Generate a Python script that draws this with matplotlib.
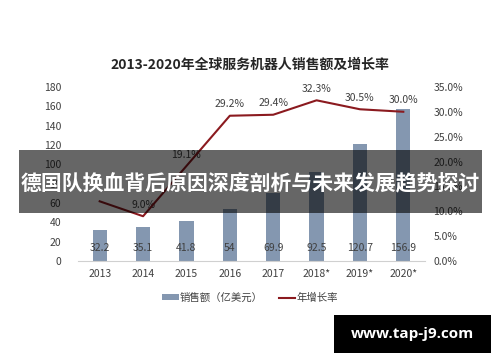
import matplotlib
matplotlib.use("Agg")
import matplotlib.pyplot as plt
from matplotlib.patches import Rectangle
from matplotlib.lines import Line2D
from matplotlib.patches import Patch

plt.rcParams['font.family'] = ['Noto Sans CJK SC', 'DejaVu Sans']

years = ['2013', '2014', '2015', '2016', '2017', '2018*', '2019*', '2020*']
sales = [32.2, 35.1, 41.8, 54, 69.9, 92.5, 120.7, 156.9]
growth = [12.0, 9.0, 19.1, 29.2, 29.4, 32.3, 30.5, 30.0]
left_ticks = [0, 20, 40, 60, 80, 100, 120, 140, 160, 180]
right_ticks = [0, 5, 10, 15, 20, 25, 30, 35]

title = '2013-2020年全球服务机器人销售额及增长率'
banner = '德国队换血背后原因深度剖析与未来发展趋势探讨'
watermark = 'www.tap-j9.com'

bar_color = '#8497b0'
line_color = '#8b1a1f'
text_color = '#404040'

fig = plt.figure(figsize=(5, 3.62), dpi=100)
ax = fig.add_axes([0.156, 0.279, 0.694, 0.481])
x = list(range(len(years)))
ax.bar(x, sales, width=0.33, color=bar_color, zorder=2)
ax.set_xlim(-0.5, len(years) - 0.5)
ax.set_ylim(0, 180)
ax.set_yticks(left_ticks)
ax.set_xticks(x)
ax.set_xticklabels(years)
for s in ['top', 'left', 'right']:
    ax.spines[s].set_visible(False)
ax.spines['bottom'].set_color('#d0d0d0')
ax.tick_params(axis='both', length=0, labelsize=7.5, colors=text_color, pad=6)
ax.tick_params(axis='y', pad=12)
for xi, v in zip(x, sales):
    ax.text(xi, 8, f'{v:g}', ha='center', va='bottom', fontsize=7.5, color=text_color, zorder=3)

ax2 = ax.twinx()
ax2.plot(x, growth, color=line_color, lw=1.5, zorder=4)
ax2.set_ylim(0, 35)
ax2.set_yticks(right_ticks)
ax2.set_yticklabels([f'{t:.1f}%' for t in right_ticks])
for s in ['top', 'left', 'right', 'bottom']:
    ax2.spines[s].set_visible(False)
ax2.tick_params(axis='y', length=0, labelsize=7.5, colors=text_color, pad=6)
for xi, g in zip(x[1:], growth[1:]):
    ax2.text(xi, g + 1.3, f'{g:.1f}%', ha='center', va='bottom', fontsize=7.5, color=text_color)

fig.text(0.5, 0.82, title, ha='center', va='center', fontsize=10, fontweight='bold', color='#262626')

handles = [Patch(facecolor=bar_color, edgecolor='none'), Line2D([0], [0], color=line_color, lw=1.5)]
fig.legend(handles, ['销售额（亿美元）', '年增长率'], loc='center', bbox_to_anchor=(0.5, 0.177),
           ncol=2, frameon=False, fontsize=7.5, handlelength=1.6, handleheight=0.5,
           handletextpad=0.1, columnspacing=1.5, labelcolor=text_color)

fig.patches.append(Rectangle((19 / 500, 1 - 213 / 362), 463 / 500, 63 / 362, transform=fig.transFigure,
                             facecolor='black', alpha=0.6, edgecolor='none', zorder=5))
fig.text(0.5, 1 - 184 / 362, banner, ha='center', va='center', fontsize=15, fontweight='bold',
         color='white', zorder=6)

fig.patches.append(Rectangle((334 / 500, 1 - 353 / 362), 157 / 500, 38 / 362, transform=fig.transFigure,
                             facecolor='black', edgecolor='none', zorder=5))
fig.text(412.5 / 500, 1 - 334 / 362, watermark, ha='center', va='center', fontsize=11, fontweight='bold',
         color='white', family=['Open Sans', 'DejaVu Sans'], zorder=6)

fig.savefig('out.png', dpi=100, facecolor='white')
